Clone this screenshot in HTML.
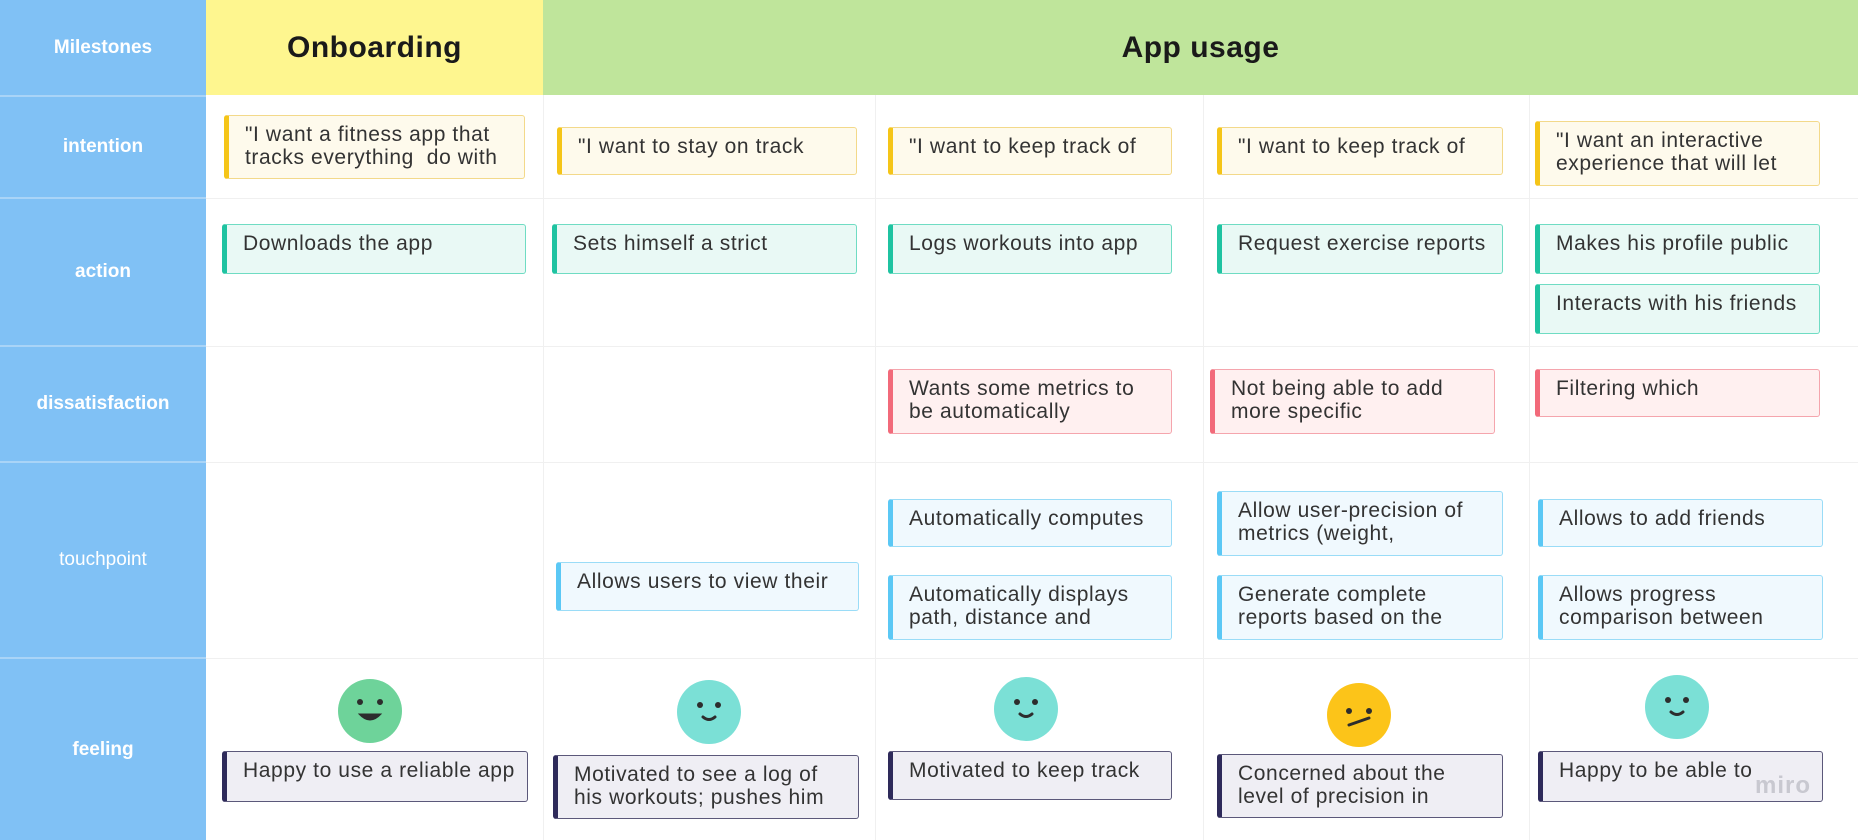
<!DOCTYPE html>
<html><head><meta charset="utf-8"><style>
*{margin:0;padding:0;box-sizing:border-box}
body{width:1858px;height:840px;position:relative;background:#fff;font-family:"Liberation Sans",sans-serif;overflow:hidden}
.a{position:absolute}
.lab{position:absolute;left:0;width:206px;background:#80c1f5;color:#fff;font-weight:bold;font-size:19px;display:flex;align-items:center;justify-content:center;border-bottom:2px solid #a9d4f7}
.c{position:absolute;font-size:21px;line-height:23px;letter-spacing:0.6px;color:#333;padding:7px 8px 0 16px;border:1.5px solid;border-left-width:5px;border-radius:3px;overflow:hidden}
.i{background:#fefaec;border-color:#f3d98a;border-left-color:#f5c518}
.ac{background:#e9f9f5;border-color:#6fdcc3;border-left-color:#1fc3a1}
.d{background:#fff0f0;border-color:#f5a5ad;border-left-color:#f26a7a}
.t{background:#f0f9fe;border-color:#9adcf7;border-left-color:#5bc8f5}
.f{background:#efeef4;border-color:#5b587a;border-left-color:#2e2a5a}
.hl{position:absolute;left:206px;width:1652px;height:1px;background:#f0f0f0}
.vl{position:absolute;top:95px;height:745px;width:1px;background:#f0f0f0}
</style></head><body>
<div class="lab" style="top:0;height:97px">Milestones</div>
<div class="lab" style="top:97px;height:102px">intention</div>
<div class="lab" style="top:199px;height:148px">action</div>
<div class="lab" style="top:347px;height:116px">dissatisfaction</div>
<div class="lab" style="top:463px;height:196px;font-weight:normal">touchpoint</div>
<div class="lab" style="top:659px;height:181px;border-bottom:none">feeling</div>
<div class="a" style="left:206px;top:0;width:337px;height:95px;background:#fef68f;display:flex;align-items:center;justify-content:center;font-weight:bold;font-size:30px;color:#1a1a1a;letter-spacing:0.5px">Onboarding</div>
<div class="a" style="left:543px;top:0;width:1315px;height:95px;background:#bfe59b;display:flex;align-items:center;justify-content:center;font-weight:bold;font-size:30px;color:#1a1a1a;letter-spacing:0.5px">App usage</div>
<div class="hl" style="top:198px"></div><div class="hl" style="top:346px"></div><div class="hl" style="top:462px"></div><div class="hl" style="top:658px"></div>
<div class="vl" style="left:543px"></div><div class="vl" style="left:875px"></div><div class="vl" style="left:1203px"></div><div class="vl" style="left:1529px"></div>

<div class="c i" style="left:224px;top:115px;width:301px;height:64px">"I want a fitness app that tracks everything&nbsp; do with</div>
<div class="c i" style="left:557px;top:127px;width:300px;height:48px">"I want to stay on track</div>
<div class="c i" style="left:888px;top:127px;width:284px;height:48px">"I want to keep track of</div>
<div class="c i" style="left:1217px;top:127px;width:286px;height:48px">"I want to keep track of</div>
<div class="c i" style="left:1535px;top:121px;width:285px;height:65px">"I want an interactive experience that will let</div>

<div class="c ac" style="left:222px;top:224px;width:304px;height:50px">Downloads the app</div>
<div class="c ac" style="left:552px;top:224px;width:305px;height:50px">Sets himself a strict</div>
<div class="c ac" style="left:888px;top:224px;width:284px;height:50px">Logs workouts into app</div>
<div class="c ac" style="left:1217px;top:224px;width:286px;height:50px">Request exercise reports</div>
<div class="c ac" style="left:1535px;top:224px;width:285px;height:50px">Makes his profile public</div>
<div class="c ac" style="left:1535px;top:284px;width:285px;height:50px">Interacts with his friends</div>

<div class="c d" style="left:888px;top:369px;width:284px;height:65px">Wants some metrics to be automatically</div>
<div class="c d" style="left:1210px;top:369px;width:285px;height:65px">Not being able to add more specific</div>
<div class="c d" style="left:1535px;top:369px;width:285px;height:48px">Filtering which</div>

<div class="c t" style="left:556px;top:562px;width:303px;height:49px">Allows users to view their</div>
<div class="c t" style="left:888px;top:499px;width:284px;height:48px">Automatically computes</div>
<div class="c t" style="left:888px;top:575px;width:284px;height:65px">Automatically displays path, distance and</div>
<div class="c t" style="left:1217px;top:491px;width:286px;height:65px">Allow user-precision of metrics (weight,</div>
<div class="c t" style="left:1217px;top:575px;width:286px;height:65px">Generate complete reports based on the</div>
<div class="c t" style="left:1538px;top:499px;width:285px;height:48px">Allows to add friends</div>
<div class="c t" style="left:1538px;top:575px;width:285px;height:65px">Allows progress comparison between</div>

<svg class="a" style="left:0;top:0" width="1858" height="840">
<g stroke="#2d2d2d" fill="none" stroke-linecap="round">
<circle cx="370" cy="711" r="32" fill="#6ed39a" stroke="none"/>
<circle cx="360" cy="702" r="3" fill="#2d2d2d" stroke="none"/><circle cx="380" cy="702" r="3" fill="#2d2d2d" stroke="none"/>
<path d="M359 714 Q370 726 381 714 Z" fill="#2d2d2d"/>
<circle cx="709" cy="712" r="32" fill="#7be0d6" stroke="none"/>
<circle cx="700" cy="705" r="3" fill="#2d2d2d" stroke="none"/><circle cx="718" cy="705" r="3" fill="#2d2d2d" stroke="none"/>
<path d="M703 717 Q709 722 715 717" stroke-width="3"/>
<circle cx="1026" cy="709" r="32" fill="#7be0d6" stroke="none"/>
<circle cx="1017" cy="702" r="3" fill="#2d2d2d" stroke="none"/><circle cx="1035" cy="702" r="3" fill="#2d2d2d" stroke="none"/>
<path d="M1020 714 Q1026 719 1032 714" stroke-width="3"/>
<circle cx="1359" cy="715" r="32" fill="#fcc419" stroke="none"/>
<circle cx="1349" cy="711" r="3" fill="#2d2d2d" stroke="none"/><circle cx="1369" cy="711" r="3" fill="#2d2d2d" stroke="none"/>
<path d="M1349 725 L1369 718" stroke-width="3"/>
<circle cx="1677" cy="707" r="32" fill="#7be0d6" stroke="none"/>
<circle cx="1668" cy="700" r="3" fill="#2d2d2d" stroke="none"/><circle cx="1686" cy="700" r="3" fill="#2d2d2d" stroke="none"/>
<path d="M1671 712 Q1677 717 1683 712" stroke-width="3"/>
</g></svg>

<div class="c f" style="left:222px;top:751px;width:306px;height:51px">Happy to use a reliable app</div>
<div class="c f" style="left:553px;top:755px;width:306px;height:64px">Motivated to see a log of his workouts; pushes him</div>
<div class="c f" style="left:888px;top:751px;width:284px;height:49px">Motivated to keep track</div>
<div class="c f" style="left:1217px;top:754px;width:286px;height:64px">Concerned about the level of precision in</div>
<div class="c f" style="left:1538px;top:751px;width:285px;height:51px">Happy to be able to</div>
<div class="a" style="left:1755px;top:772px;font-size:24px;font-weight:bold;color:#c8c8d0;letter-spacing:1px">miro</div>
</body></html>
